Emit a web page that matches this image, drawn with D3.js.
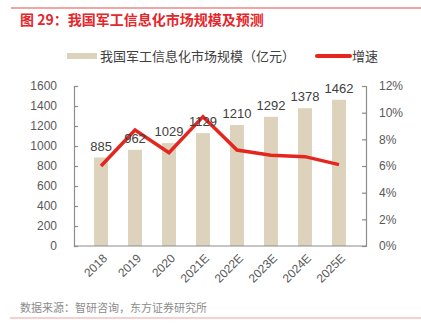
<!DOCTYPE html>
<html><head><meta charset="utf-8">
<script src="https://cdn.jsdelivr.net/npm/d3@7"></script>
<style>body{margin:0;background:#fff;}svg{display:block;font-family:"Noto Sans CJK SC","Liberation Sans",sans-serif;}.num{font-family:"Liberation Sans",Arial,sans-serif;}</style>
</head><body>
<script>
const categories = ["2018","2019","2020","2021E","2022E","2023E","2024E","2025E"];
const marketSize = [885,962,1029,1129,1210,1292,1378,1462];
const growth = [6.0,8.7,7.0,9.7,7.2,6.8,6.7,6.1];
const leftTicks = [0,200,400,600,800,1000,1200,1400,1600];
const rightTicks = [0,2,4,6,8,10,12];
const title = "图 29：我国军工信息化市场规模及预测";
const legendBar = "我国军工信息化市场规模（亿元）";
const legendLine = "增速";
const source = "数据来源：智研咨询，东方证券研究所";

const W=421,H=325;
const svg=d3.select("body").append("svg").attr("width",W).attr("height",H);
const m={l:74,r:366,t:86,b:246};
const x=d3.scaleBand().domain(categories).range([m.l,m.r]).padding(0.59);
const y=d3.scaleLinear().domain([0,1600]).range([m.b,m.t]);
const y2=d3.scaleLinear().domain([0,12]).range([m.b,m.t]);

svg.append("line").attr("x1",11).attr("x2",421).attr("y1",8).attr("y2",8).attr("stroke","#e84a4a").attr("stroke-width",1.2);
svg.append("text").attr("x",20).attr("y",25).attr("fill","#e5262b").attr("font-size",14).attr("font-weight","bold").text(title);

// legend
svg.append("rect").attr("x",67).attr("y",53).attr("width",30).attr("height",6).attr("fill","#ddd3bc");
svg.append("text").attr("x",100).attr("y",61).attr("font-size",13).attr("fill","#404040").text(legendBar);
svg.append("line").attr("x1",317).attr("x2",350).attr("y1",56).attr("y2",56).attr("stroke","#e5261e").attr("stroke-width",4).attr("stroke-linecap","round");
svg.append("text").attr("x",352).attr("y",61).attr("font-size",13).attr("fill","#404040").text(legendLine);

// bars
svg.selectAll("rect.bar").data(marketSize).join("rect").attr("class","bar")
 .attr("x",(d,i)=>x(categories[i])).attr("width",x.bandwidth())
 .attr("y",d=>y(d)).attr("height",d=>y(0)-y(d)).attr("fill","#ddd3bc");

// axes
const axisColor="#8c8c8c";
const gl=svg.append("g").attr("transform",`translate(${m.l},0)`).call(d3.axisRight(y).tickValues(leftTicks).tickSize(4).tickFormat(""));
const gr=svg.append("g").attr("transform",`translate(${m.r},0)`).call(d3.axisLeft(y2).tickValues(rightTicks).tickSize(4).tickFormat(""));
const gb=svg.append("g").attr("transform",`translate(0,${m.b})`).call(d3.axisBottom(x).tickSize(0).tickFormat(""));
[gl,gr,gb].forEach(g=>{g.selectAll("path,line").attr("stroke",axisColor).attr("stroke-width",1.2);});
gb.select("path").remove();
svg.append("line").attr("x1",m.l).attr("x2",m.r).attr("y1",m.b).attr("y2",m.b).attr("stroke",axisColor).attr("stroke-width",1.2);

svg.selectAll("text.yl").data(leftTicks).join("text").attr("class","yl num")
 .attr("x",m.l-17).attr("y",d=>y(d)).attr("dy","0.35em").attr("text-anchor","end")
 .attr("font-size",12).attr("fill","#595959").text(d=>d);
svg.selectAll("text.yr").data(rightTicks).join("text").attr("class","yr num")
 .attr("x",m.r+13).attr("y",d=>y2(d)).attr("dy","0.35em").attr("text-anchor","start")
 .attr("font-size",12).attr("fill","#595959").text(d=>d+"%");
svg.selectAll("text.xl").data(categories).join("text").attr("class","xl num")
 .attr("transform",d=>`translate(${x(d)+x.bandwidth()/2+4},${m.b+10}) rotate(-45)`)
 .attr("text-anchor","end").attr("dy","0.35em")
 .attr("font-size",12).attr("fill","#595959").text(d=>d);

// line
const line=d3.line().x((d,i)=>x(categories[i])+x.bandwidth()/2).y(d=>y2(d));
svg.append("path").datum(growth).attr("d",line).attr("fill","none").attr("stroke","#e5261e").attr("stroke-width",3.5).attr("stroke-linejoin","miter");

// value labels
svg.selectAll("text.vl").data(marketSize).join("text").attr("class","vl num")
 .attr("x",(d,i)=>x(categories[i])+x.bandwidth()/2).attr("y",d=>y(d)-7)
 .attr("text-anchor","middle").attr("font-size",13).attr("fill","#404040").text(d=>d);

svg.append("text").attr("x",20).attr("y",312).attr("font-size",11).attr("fill","#8c8c8c").text(source);
svg.append("line").attr("x1",10).attr("x2",421).attr("y1",318).attr("y2",318).attr("stroke","#f2a0a0").attr("stroke-width",1.2);
</script>
</body></html>
